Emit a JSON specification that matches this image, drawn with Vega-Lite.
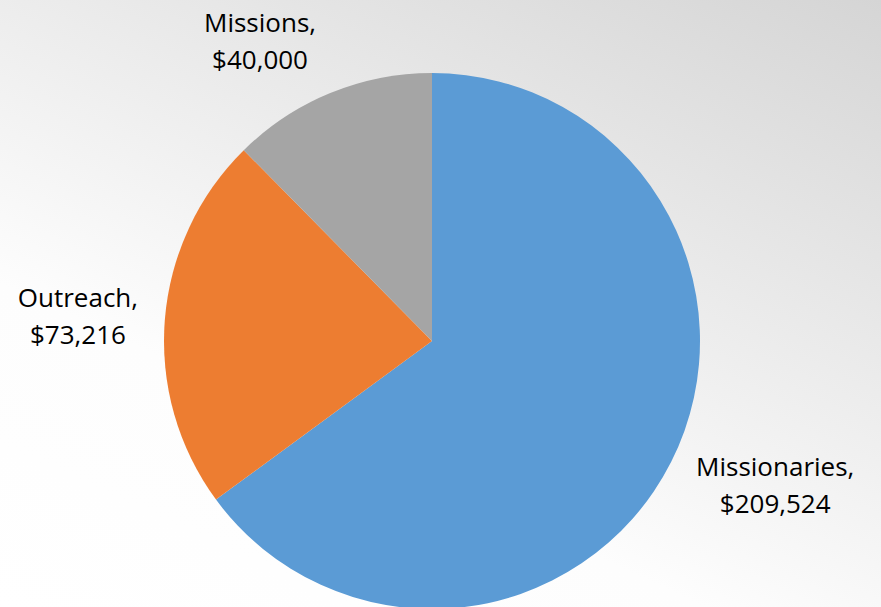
{
  "$schema": "https://vega.github.io/schema/vega-lite/v6.json",
  "width": 898,
  "height": 682,
  "autosize": {"type": "none"},
  "padding": {"left": -17, "top": 0, "right": 0, "bottom": -75},
  "background": "#ffffff",
  "view": {
    "stroke": null,
    "fill": {
      "gradient": "linear",
      "x1": 0, "y1": 0.8787, "x2": 0.657, "y2": -0.2076,
      "stops": [
        {"offset": 0, "color": "#ffffff"},
        {"offset": 0.32, "color": "#fdfdfd"},
        {"offset": 1, "color": "#d5d5d5"}
      ]
    }
  },
  "data": {
    "values": [
      {"idx": 1, "category": "Missionaries", "amount": 209524, "label": ["Missionaries,", "$209,524"]},
      {"idx": 2, "category": "Outreach", "amount": 73216, "label": ["Outreach,", "$73,216"]},
      {"idx": 3, "category": "Missions", "amount": 40000, "label": ["Missions,", "$40,000"]}
    ]
  },
  "encoding": {
    "theta": {"field": "amount", "type": "quantitative", "stack": true},
    "order": {"field": "idx", "type": "quantitative"}
  },
  "layer": [
    {
      "mark": {"type": "arc", "outerRadius": 268},
      "encoding": {
        "color": {
          "field": "category",
          "type": "nominal",
          "scale": {
            "domain": ["Missionaries", "Outreach", "Missions"],
            "range": ["#5b9bd5", "#ed7d31", "#a5a5a5"]
          },
          "legend": null
        }
      }
    },
    {
      "mark": {
        "type": "text",
        "radius": 295,
        "font": "Open Sans",
        "fontSize": 26,
        "lineHeight": 37,
        "fill": "#000000",
        "align": "center",
        "baseline": "middle",
        "dx": {"expr": "datum.category === 'Missionaries' ? 80 : -60"},
        "dy": {"expr": "datum.category === 'Missionaries' ? -6 : (datum.category === 'Missions' ? -44 : -19)"}
      },
      "encoding": {
        "detail": {"field": "category", "type": "nominal"},
        "text": {"field": "label"}
      }
    }
  ]
}
